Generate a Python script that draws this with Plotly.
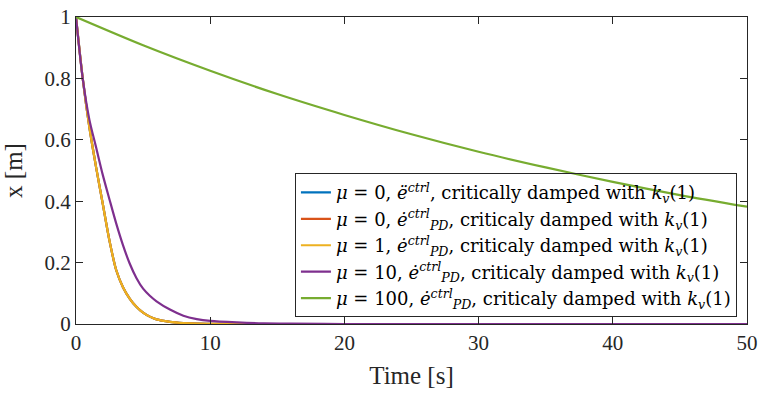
import plotly.graph_objects as go

# time samples (s)
t_fast = [0, 0.5, 1, 1.5, 2, 2.5, 3, 3.5, 4, 4.5, 5, 5.5, 6, 7, 8, 9, 10, 12, 14, 16, 20, 30, 40, 50]
t_slow = [0, 5, 10, 15, 20, 25, 30, 35, 40, 45, 50]

# position x [m]
x_mu0_eddot = [1.0, 0.80, 0.64, 0.51, 0.39, 0.27, 0.175, 0.12, 0.083, 0.056, 0.037, 0.024, 0.015,
               0.007, 0.003, 0.001, 0.0005, 0, 0, 0, 0, 0, 0, 0]
x_mu0_pd = [1.0, 0.80, 0.64, 0.51, 0.39, 0.27, 0.175, 0.12, 0.083, 0.056, 0.037, 0.024, 0.015,
            0.007, 0.003, 0.001, 0.0005, 0, 0, 0, 0, 0, 0, 0]
x_mu1_pd = [1.0, 0.80, 0.64, 0.51, 0.39, 0.27, 0.175, 0.12, 0.083, 0.056, 0.037, 0.024, 0.015,
            0.007, 0.003, 0.001, 0.0005, 0, 0, 0, 0, 0, 0, 0]
x_mu10_pd = [1.0, 0.80, 0.665, 0.575, 0.485, 0.405, 0.327, 0.257, 0.197, 0.15, 0.115, 0.092, 0.074,
             0.047, 0.027, 0.016, 0.01, 0.005, 0.002, 0.001, 0, 0, 0, 0]
x_mu100_pd = [1.0, 0.908, 0.825, 0.749, 0.681, 0.618, 0.561, 0.510, 0.463, 0.420, 0.382]

labels = [
    "<i>μ</i> = 0, <i>ë</i><sup><i>ctrl</i></sup>, critically damped with <i>k</i><sub><i>v</i></sub>(1)",
    "<i>μ</i> = 0, <i>ė</i><sup><i>ctrl</i></sup><sub><i>PD</i></sub>, criticaly damped with <i>k</i><sub><i>v</i></sub>(1)",
    "<i>μ</i> = 1, <i>ė</i><sup><i>ctrl</i></sup><sub><i>PD</i></sub>, criticaly damped with <i>k</i><sub><i>v</i></sub>(1)",
    "<i>μ</i> = 10, <i>ė</i><sup><i>ctrl</i></sup><sub><i>PD</i></sub>, criticaly damped with <i>k</i><sub><i>v</i></sub>(1)",
    "<i>μ</i> = 100, <i>ė</i><sup><i>ctrl</i></sup><sub><i>PD</i></sub>, criticaly damped with <i>k</i><sub><i>v</i></sub>(1)",
]
colors = ["#0072BD", "#D95319", "#EDB120", "#7E2F8E", "#77AC30"]
series = [(t_fast, x_mu0_eddot), (t_fast, x_mu0_pd), (t_fast, x_mu1_pd),
          (t_fast, x_mu10_pd), (t_slow, x_mu100_pd)]

FONT = "Liberation Serif, DejaVu Serif, serif"
LEGEND_FONT = "DejaVu Serif, serif"
INK = "#262626"

fig = go.Figure()
for (t, x), name, c in zip(series, labels, colors):
    fig.add_trace(go.Scatter(x=t, y=x, mode="lines", name=name,
                             line=dict(color=c, width=2.2, shape="spline", smoothing=0.8)))

axis_common = dict(showline=True, linecolor=INK, linewidth=1, mirror="ticks",
                   ticks="inside", ticklen=7, tickcolor=INK, showgrid=False, zeroline=False,
                   tickfont=dict(family=FONT, size=21, color=INK))
fig.update_xaxes(range=[0, 50], tickvals=[0, 10, 20, 30, 40, 50],
                 title=dict(text="Time [s]", font=dict(family=FONT, size=25, color=INK), standoff=12),
                 **axis_common)
fig.update_yaxes(range=[0, 1], tickvals=[0, 0.2, 0.4, 0.6, 0.8, 1],
                 ticktext=["0", "0.2", "0.4", "0.6", "0.8", "1"],
                 title=dict(text="x [m]", font=dict(family=FONT, size=25, color=INK), standoff=14),
                 **axis_common)

# legend background left see-through: the green curve shows through it in the original
fig.update_layout(
    width=764, height=397,
    margin=dict(l=76, r=17, t=17, b=73, autoexpand=False),
    plot_bgcolor="white", paper_bgcolor="white",
    legend=dict(x=0.985, y=0.022, xanchor="right", yanchor="bottom",
                bgcolor="rgba(255,255,255,0)", bordercolor=INK, borderwidth=1,
                font=dict(family=LEGEND_FONT, size=18, color="black"),
                tracegroupgap=0, itemwidth=30),
)

fig.write_html("out.html", config={"displayModeBar": False},
               post_script="document.body.style.margin='0';")
